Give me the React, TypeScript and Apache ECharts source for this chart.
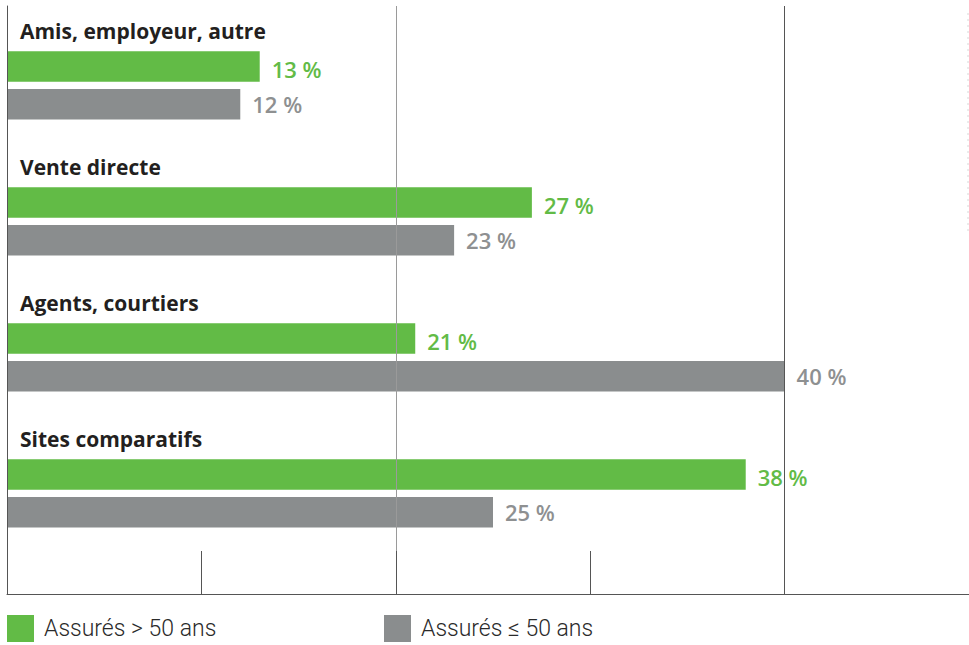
import React, { useEffect, useRef } from "react";
import * as echarts from "echarts";

const categories = ["Amis, employeur, autre", "Vente directe", "Agents, courtiers", "Sites comparatifs"];
const seriesNames = ["Assurés > 50 ans", "Assurés ≤ 50 ans"];
const over50 = [13, 27, 21, 38];
const under50 = [12, 23, 40, 25];

const GREEN = "#62bb46";
const GRAY = "#8a8d8e";

export default function App() {
  const ref = useRef<HTMLDivElement>(null);
  useEffect(() => {
    const chart = echarts.init(ref.current!, null, { renderer: "svg" });
    const valueLabel = (color: string, dy: number) => ({
      show: true,
      position: "right",
      distance: 12,
      offset: [0, dy],
      formatter: "{c} %",
      color,
      fontFamily: "Open Sans",
      fontWeight: 600,
      fontSize: 22,
    });
    const legendText = {
      fontFamily: "Roboto",
      fontWeight: 300,
      fontSize: 23,
      color: "#2a2a2a",
      padding: [0, 0, 0, 5],
    };
    chart.setOption({
      animation: false,
      backgroundColor: "#ffffff",
      grid: [
        { left: 7, width: 972, top: 17.4, height: 544, containLabel: false, outerBoundsMode: "none" },
        { left: 7, width: 972, top: 6, bottom: 51, containLabel: false, outerBoundsMode: "none" },
      ],
      xAxis: [
        { gridIndex: 0, type: "value", min: 0, max: 50, show: false },
        {
          gridIndex: 1,
          type: "value",
          min: 0,
          max: 50,
          interval: 20,
          position: "bottom",
          z: 10,
          axisLine: { show: true, lineStyle: { color: "#555", width: 1 } },
          axisTick: { show: true, inside: true, length: 43, lineStyle: { color: "#555" } },
          minorTick: { show: true, splitNumber: 2, length: 43, lineStyle: { color: "#555", width: 1 } },
          axisLabel: { show: false },
          splitLine: { show: true, lineStyle: { color: ["#555", "#9a9a9a", "#555"], width: 1 } },
        },
      ],
      yAxis: [
        {
          gridIndex: 0,
          type: "category",
          data: categories,
          inverse: true,
          z: 5,
          axisLine: { show: false },
          axisTick: { show: false },
          splitLine: { show: false },
          axisLabel: {
            show: true,
            interval: 0,
            showMinLabel: true,
            showMaxLabel: true,
            hideOverlap: false,
            inside: true,
            margin: 13,
            align: "left",
            verticalAlign: "middle",
            formatter: (v: string) => `{t|${v}}\n{s|}`,
            rich: {
              t: {
                color: "#231f20",
                fontFamily: "Open Sans",
                fontWeight: 700,
                fontSize: 21,
                lineHeight: 28,
              },
              s: { height: 109, lineHeight: 109 },
            },
          },
        },
        {
          gridIndex: 1,
          type: "value",
          min: 0,
          max: 1,
          z: 10,
          axisLine: { show: true, lineStyle: { color: "#555", width: 1 } },
          axisTick: { show: false },
          axisLabel: { show: false },
          splitLine: { show: false },
        },
      ],
      legend: [
        {
          data: [seriesNames[0]],
          left: 7,
          top: 615,
          padding: 0,
          icon: "rect",
          itemWidth: 27,
          itemHeight: 27,
          textStyle: legendText,
        },
        {
          data: [seriesNames[1]],
          left: 384,
          top: 615,
          padding: 0,
          icon: "rect",
          itemWidth: 27,
          itemHeight: 27,
          textStyle: legendText,
        },
      ],
      graphic: [
        {
          type: "line",
          shape: { x1: 968, y1: 13, x2: 968, y2: 235 },
          style: { stroke: "#d8d8d8", lineWidth: 1, lineDash: [2, 4] },
          silent: true,
        },
      ],
      series: [
        {
          name: seriesNames[0],
          type: "bar",
          xAxisIndex: 0,
          yAxisIndex: 0,
          data: over50,
          barWidth: 30.5,
          barGap: "24%",
          itemStyle: { color: GREEN },
          label: valueLabel(GREEN, 3),
        },
        {
          name: seriesNames[1],
          type: "bar",
          xAxisIndex: 0,
          yAxisIndex: 0,
          data: under50,
          barWidth: 30.5,
          barGap: "24%",
          itemStyle: { color: GRAY },
          label: valueLabel("#8e9091", 0),
        },
      ],
    });
    return () => chart.dispose();
  }, []);
  return (
    <div
      ref={ref}
      style={{ position: "fixed", left: 0, top: 0, width: 969, height: 645, background: "#fff" }}
    />
  );
}
